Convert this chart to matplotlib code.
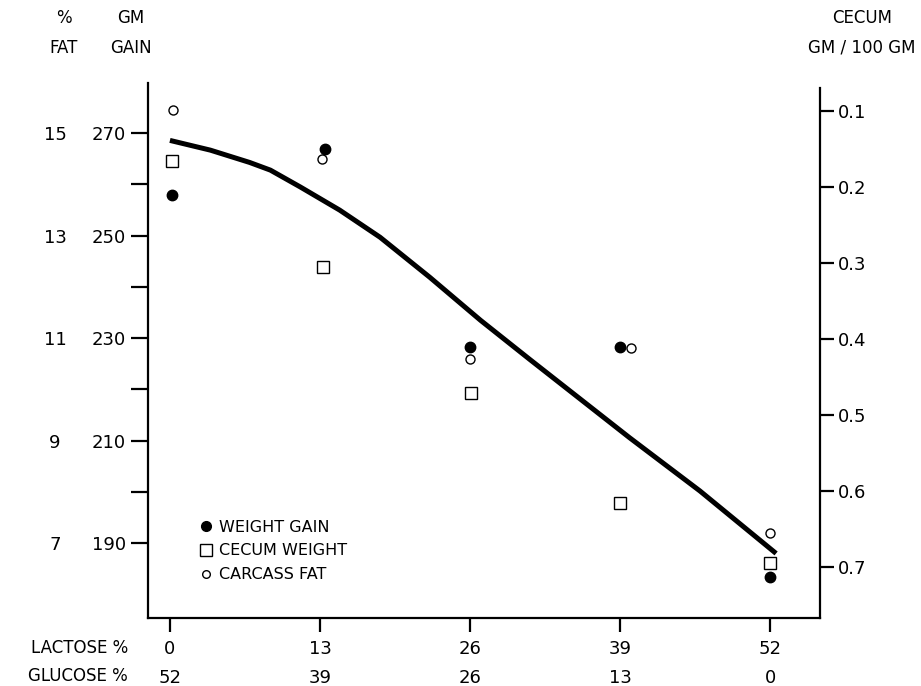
import matplotlib.pyplot as plt
from matplotlib.lines import Line2D
from matplotlib.ticker import FixedLocator

plt.rcParams['font.family'] = ['DejaVu Sans']

# x categories (lactose % / glucose %)
lactose = [0, 13, 26, 39, 52]
glucose = [52, 39, 26, 13, 0]

# weight gain (gm)
gain_x = [0.2, 13.4, 26.0, 39.0, 52.0]
gain = [257.9, 266.9, 228.2, 228.2, 183.4]

# carcass fat (%)
fat_x = [0.3, 13.2, 26.0, 39.9, 52.0]
fat = [15.45, 14.5, 10.6, 10.8, 7.2]

# cecum weight (gm / 100 gm)
cecum_x = [0.2, 13.3, 26.1, 39.0, 52.0]
cecum = [0.166, 0.305, 0.471, 0.616, 0.695]

# hand-drawn curve (gm gain scale), read point by point
fit_x = [0.0, 3.5, 6.9, 8.7, 11.3, 14.7, 18.2, 22.5, 26.9, 31.2, 35.5, 39.8, 45.9, 52.5]
fit_y = [268.6, 266.7, 264.3, 262.8, 259.5, 255.0, 249.7, 241.9, 233.5, 225.8, 218.2, 210.6, 200.2, 188.0]

fig = plt.figure(figsize=(9.21, 6.86), dpi=100)
ax = fig.add_axes([0.1607, 0.0991, 0.7296, 0.7799])

gm_lo, gm_hi = 175.4, 279.8
ax.set_xlim(-1.9, 56.3)
ax.set_ylim(gm_lo, gm_hi)

ax.spines["top"].set_visible(False)
ax.spines["right"].set_visible(False)
for s in ["left", "bottom"]:
    ax.spines[s].set_linewidth(1.6)

ax.yaxis.set_major_locator(FixedLocator([190, 210, 230, 250, 270]))
ax.yaxis.set_minor_locator(FixedLocator([200, 220, 240, 260]))
ax.tick_params(axis="y", which="both", length=12, width=1.6, labelsize=13, pad=4)
ax.set_xticks(lactose)
ax.set_xticklabels([f"{a}\n{b}" for a, b in zip(lactose, glucose)], linespacing=1.8)
ax.tick_params(axis="x", length=10, width=1.6, labelsize=13, pad=6)

ax.plot(fit_x, fit_y, color="black", lw=3.6, solid_capstyle="butt",
        solid_joinstyle="round", zorder=2)
ax.plot(gain_x, gain, "o", color="black", ms=7.5, zorder=3)

# % fat axis (left, offset, no spine)
ax3 = ax.twinx()
ax3.set_ylim(15 + (gm_lo - 270) / 10, 15 + (gm_hi - 270) / 10)
ax3.yaxis.set_ticks_position("left")
ax3.spines["left"].set_position(("outward", 75))
for s in ax3.spines.values():
    s.set_visible(False)
ax3.set_yticks([7, 9, 11, 13, 15])
for lbl in ax3.get_yticklabels():
    lbl.set_horizontalalignment("center")
ax3.tick_params(axis="y", length=0, labelsize=13, pad=-8)
ax3.plot(fat_x, fat, "o", mfc="white", mec="black", ms=6.5, mew=1.0, zorder=4)

# cecum axis (right, inverted)
ax2 = ax.twinx()
ax2.set_ylim(0.767, 0.063)
for s in ["top", "left", "bottom"]:
    ax2.spines[s].set_visible(False)
ax2.spines["right"].set_linewidth(1.6)
ax2.spines["right"].set_bounds(0.767, 0.0697)
ax2.set_yticks([0.1, 0.2, 0.3, 0.4, 0.5, 0.6, 0.7])
ax2.tick_params(axis="y", length=10, width=1.6, labelsize=13, pad=3)
ax2.plot(cecum_x, cecum, "s", mfc="white", mec="black", ms=8.5, mew=1.0, zorder=4)

# headers
fig.text(64 / 921, 1 - 18 / 686, "%", ha="center", va="center", fontsize=12)
fig.text(64 / 921, 1 - 48 / 686, "FAT", ha="center", va="center", fontsize=12)
fig.text(131 / 921, 1 - 18 / 686, "GM", ha="center", va="center", fontsize=12)
fig.text(131 / 921, 1 - 48 / 686, "GAIN", ha="center", va="center", fontsize=12)
fig.text(862 / 921, 1 - 18 / 686, "CECUM", ha="center", va="center", fontsize=12)
fig.text(862 / 921, 1 - 48 / 686, "GM / 100 GM", ha="center", va="center", fontsize=12)

# row labels for x axis
fig.text(128 / 921, 1 - 648 / 686, "LACTOSE %", ha="right", va="center", fontsize=12)
fig.text(128 / 921, 1 - 676 / 686, "GLUCOSE %", ha="right", va="center", fontsize=12)

handles = [
    Line2D([], [], ls="none", marker="o", color="black", ms=7),
    Line2D([], [], ls="none", marker="s", mfc="white", mec="black", ms=8, mew=1.0),
    Line2D([], [], ls="none", marker="o", mfc="white", mec="black", ms=5.5, mew=1.0),
]
ax2.legend(handles, ["WEIGHT GAIN", "CECUM WEIGHT", "CARCASS FAT"],
           loc="upper left", bbox_to_anchor=(0.065, 0.196), frameon=False,
           fontsize=11.5, handletextpad=0.3, labelspacing=0.55, handlelength=1.0,
           borderaxespad=0)

fig.savefig("out.png", dpi=100)
